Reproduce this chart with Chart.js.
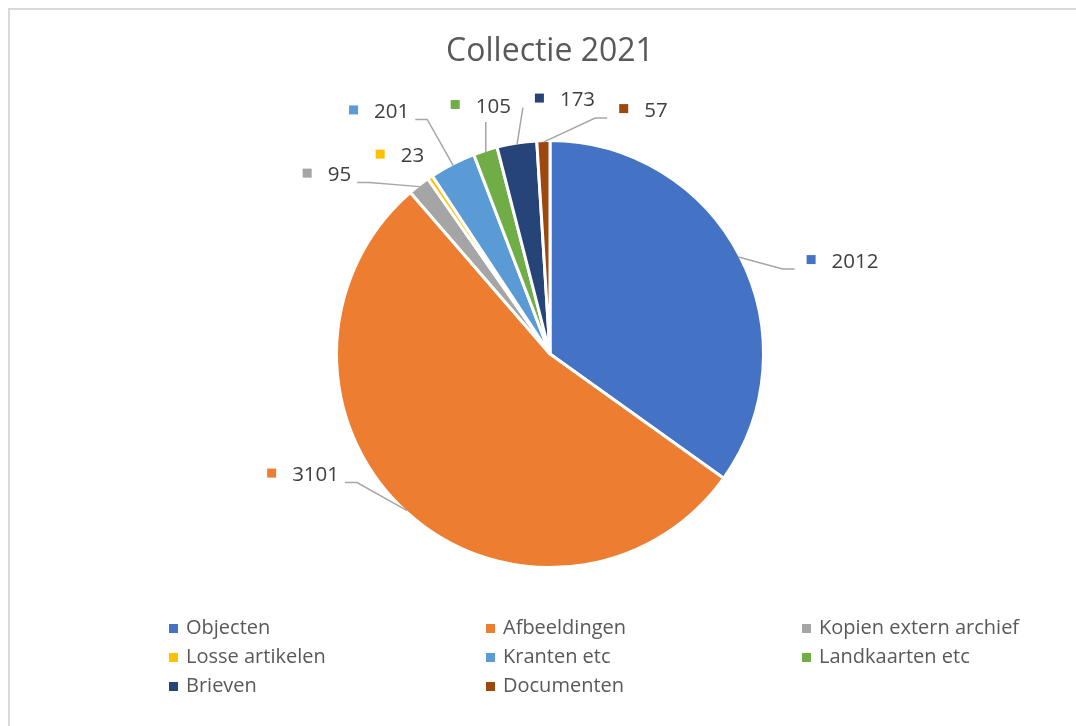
<!DOCTYPE html>
<html>
<head>
<meta charset="utf-8">
<script src="https://cdn.jsdelivr.net/npm/chart.js@4/dist/chart.umd.min.js"></script>
<style>
  body { margin:0; background:#fff; font-family:'Open Sans', sans-serif; }
  #wrap { position:relative; width:1076px; height:726px; overflow:hidden; }
  #kader { position:absolute; left:8px; top:8px; width:1200px; height:900px; border:2px solid #d9d9d9; }
  #grafiek { position:absolute; left:0; top:0; }
  #legenda { position:absolute; left:169px; top:612px; display:grid; grid-template-columns:317px 316px 260px; row-gap:0; }
  #legenda div { height:29px; line-height:29px; font-size:20px; color:#595959; white-space:nowrap; }
  #legenda span { display:inline-block; width:9px; height:9px; margin-right:8px; vertical-align:1px; }
</style>
</head>
<body>
<div id="wrap">
  <div id="kader"></div>
  <canvas id="grafiek" width="1076" height="726"></canvas>
  <div id="legenda"></div>
</div>
<script>
const categorieen = ['Objecten', 'Afbeeldingen', 'Kopien extern archief', 'Losse artikelen', 'Kranten etc', 'Landkaarten etc', 'Brieven', 'Documenten'];
const aantallen = [2012, 3101, 95, 23, 201, 105, 173, 57];
const kleuren = ['#4472C4', '#ED7D31', '#A5A5A5', '#FFC000', '#5B9BD5', '#70AD47', '#264478', '#9E480E'];

// Etiketten met verbindingslijnen (zoals Excel)
const etiketten = {
  id: 'etiketten',
  afterDatasetsDraw(chart, args, opts) {
    const ctx = chart.ctx;
    const meta = chart.getDatasetMeta(0);
    ctx.save();
    meta.data.forEach((arc, i) => {
      const { x, y, startAngle, endAngle, outerRadius } = arc.getProps(['x', 'y', 'startAngle', 'endAngle', 'outerRadius'], true);
      const mid = (startAngle + endAngle) / 2;
      const r = outerRadius - 1.5;
      const ex = x + Math.cos(mid) * r, ey = y + Math.sin(mid) * r;
      const [dx, dy] = opts.offsets[i];
      const lx = ex + dx, ly = ey + dy;
      const txt = String(chart.data.datasets[0].data[i]);
      ctx.font = '20.5px "Open Sans"';
      const tw = ctx.measureText(txt).width;
      const bw = 9 + 16 + tw;
      const left = lx - bw / 2, right = lx + bw / 2;

      ctx.fillStyle = chart.data.datasets[0].backgroundColor[i];
      ctx.fillRect(left, ly - 6, 9, 9);
      ctx.fillStyle = '#404040';
      ctx.textBaseline = 'middle';
      ctx.textAlign = 'left';
      ctx.fillText(txt, left + 25, ly + 1);

      // verbindingslijn
      let pts = [[ex, ey]];
      const endY = ly + 8;
      if (Math.abs(dx) < 15) {
        pts.push([ex, ly + 16]);
      } else if (dx > 0) {
        const endX = left - 12;
        if (endX - 12 - ex > 10) pts.push([endX - 12, endY]);
        pts.push([endX, endY]);
      } else {
        const endX = right + 6;
        if (ex - (endX + 12) > 10) pts.push([endX + 12, endY]);
        pts.push([endX, endY]);
      }
      const last = pts[pts.length - 1];
      if (Math.hypot(last[0] - ex, last[1] - ey) < 30) return;
      ctx.strokeStyle = '#a6a6a6';
      ctx.lineWidth = 1.5;
      ctx.beginPath();
      pts.forEach((p, k) => k ? ctx.lineTo(p[0], p[1]) : ctx.moveTo(p[0], p[1]));
      ctx.stroke();
    });
    ctx.restore();
  }
};

const chart = new Chart(document.getElementById('grafiek'), {
  type: 'pie',
  data: {
    labels: categorieen,
    datasets: [{ data: aantallen, backgroundColor: kleuren, borderColor: '#ffffff', borderWidth: 3 }]
  },
  options: {
    responsive: false,
    animation: false,
    layout: { padding: { top: 20, bottom: 157, left: 24, right: 0 } },
    plugins: {
      legend: { display: false },
      tooltip: { enabled: false },
      title: {
        display: true,
        text: 'Collectie 2021',
        color: '#595959',
        font: { family: 'Open Sans', size: 32, weight: 'normal' },
        padding: { top: 12.8, bottom: 67.8 }
      },
      etiketten: {
        offsets: [[104, 4], [-104, -36], [-93, -12], [-31, -23], [-74, -54], [-5, -46], [48, -45], [100, -32]]
      }
    }
  },
  plugins: [etiketten]
});

// Legenda in drie kolommen
document.getElementById('legenda').innerHTML = chart.data.labels.map((l, i) =>
  `<div><span style="background:${chart.data.datasets[0].backgroundColor[i]}"></span>${l}</div>`).join('');
</script>
</body>
</html>
